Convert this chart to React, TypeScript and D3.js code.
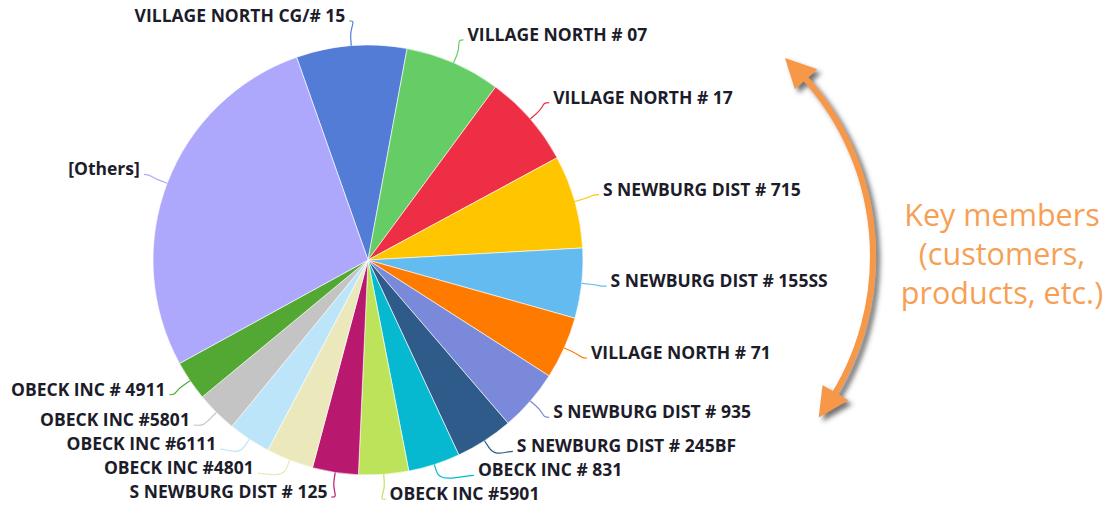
import React from "react";
import * as d3 from "d3";

// slice names, clockwise from the top
const names = [
  "VILLAGE NORTH CG/# 15",
  "VILLAGE NORTH # 07",
  "VILLAGE NORTH # 17",
  "S NEWBURG DIST # 715",
  "S NEWBURG DIST # 155SS",
  "VILLAGE NORTH # 71",
  "S NEWBURG DIST # 935",
  "S NEWBURG DIST # 245BF",
  "OBECK INC # 831",
  "OBECK INC #5901",
  "S NEWBURG DIST # 125",
  "OBECK INC #4801",
  "OBECK INC #6111",
  "OBECK INC #5801",
  "OBECK INC # 4911",
  "[Others]",
];

// share of total, in percent
const shares = [8.3, 7.2, 7.0, 7.0, 5.25, 4.7, 4.65, 4.35, 3.9, 3.75, 3.45, 3.55, 3.2, 3.1, 3.0, 27.6];

const colors = [
  "#527cd6", "#66cc66", "#ee2e44", "#ffc600", "#63bbf0", "#ff7b00", "#7a89da", "#2f5b8a",
  "#07b9d0", "#bde35a", "#b9186f", "#ebe9bb", "#bde5f9", "#c4c4c4", "#52a832", "#aea8fd",
];

const noteLines = ["Key members", "(customers,", "products, etc.)"];

const W = 1108;
const H = 505;
const cx = 368;
const cy = 260;
const radius = 215;
const labelDistance = 25;
const spacing = 24;
const start = (-19.4 * Math.PI) / 180;

const App = () => {
  const pie = d3
    .pie<number>()
    .sort(null)
    .value((d) => d)
    .startAngle(start)
    .endAngle(start + 2 * Math.PI);
  const arcs = pie(shares);
  const arc = d3.arc<d3.PieArcDatum<number>>().innerRadius(0).outerRadius(radius);

  const R = radius + labelDistance;
  const labels = arcs.map((a, i) => {
    const mid = (a.startAngle + a.endAngle) / 2;
    const s = Math.sin(mid);
    const c = Math.cos(mid);
    return {
      i,
      right: s >= 0,
      y: cy - c * R,
      x: 0,
      ex: cx + s * radius,
      ey: cy - c * radius,
      bx: cx + s * (radius + 8),
      by: cy - c * (radius + 8),
      ox: cx + s * (radius + 20),
      oy: cy - c * (radius + 20),
    };
  });

  // push overlapping labels up from the bottom, on each side
  [true, false].forEach((side) => {
    const group = labels.filter((l) => l.right === side).sort((a, b) => b.y - a.y);
    let prev = Infinity;
    group.forEach((l) => {
      if (l.y > prev - spacing) l.y = prev - spacing;
      prev = l.y;
    });
  });
  labels.forEach((l) => {
    const dy = l.y - cy;
    const dx = Math.sqrt(Math.max(0, R * R - dy * dy));
    l.x = l.right ? cx + dx : cx - dx;
  });

  // curved double arrow on the right
  const ac = { x: 606, y: 256, r: 267 };
  const aTop = (-47.9 * Math.PI) / 180;
  const aBot = (37.2 * Math.PI) / 180;
  const headLen = 30;
  const headW = 15;
  const inset = 14 / ac.r;
  const shaft = d3.path();
  shaft.arc(ac.x, ac.y, ac.r, aTop + inset, aBot - inset);
  const head = (tip: number, dir: number) => {
    const p = (a: number, rr: number) => [ac.x + Math.cos(a) * rr, ac.y + Math.sin(a) * rr];
    const base = tip + dir * (headLen / ac.r);
    const t = p(tip, ac.r);
    const b1 = p(base, ac.r - headW);
    const b2 = p(base, ac.r + headW);
    return `M${t[0]},${t[1]}L${b1[0]},${b1[1]}L${b2[0]},${b2[1]}Z`;
  };

  return (
    <svg
      width={W}
      height={H}
      style={{ position: "absolute", left: 0, top: 0, background: "#fff" }}
      fontFamily="'Open Sans', sans-serif"
    >
      <defs>
        <filter id="shadow" x="-20%" y="-20%" width="140%" height="140%">
          <feDropShadow dx="4" dy="4" stdDeviation="2.5" floodColor="#444" floodOpacity="0.75" />
        </filter>
      </defs>

      <g transform={`translate(${cx},${cy})`}>
        {arcs.map((a, i) => (
          <path key={`slice-${i}`} d={arc(a) || ""} fill={colors[i]} stroke="#fff" strokeWidth={0.6} />
        ))}
      </g>

      {labels.map((l) => {
        const sign = l.right ? 1 : -1;
        const d = `M${l.x},${l.y}C${l.x - sign * 8},${l.y} ${l.ox},${l.oy} ${l.bx},${l.by}L${l.ex},${l.ey}`;
        return (
          <g key={`label-${l.i}`}>
            <path d={d} fill="none" stroke={colors[l.i]} strokeWidth={1.2} />
            <text
              x={l.x + sign * 4}
              y={l.y - 6}
              textAnchor={l.right ? "start" : "end"}
              dominantBaseline="central"
              fontSize={17.5}
              fontWeight="bold"
              fill="#1c1c2a"
              stroke="#fff"
              strokeWidth={2}
              paintOrder="stroke"
              strokeLinejoin="round"
            >
              {names[l.i]}
            </text>
          </g>
        );
      })}

      <g filter="url(#shadow)">
        <path d={shaft.toString()} fill="none" stroke="#f7984a" strokeWidth={6} />
        <path d={head(aTop, 1)} fill="#f7984a" />
        <path d={head(aBot, -1)} fill="#f7984a" />
      </g>

      <text x={1002} textAnchor="middle" fontSize={30.5} fill="#f7a055">
        {noteLines.map((t, i) => (
          <tspan key={t} x={1002} y={226 + i * 39}>
            {t}
          </tspan>
        ))}
      </text>
    </svg>
  );
};

export default App;
